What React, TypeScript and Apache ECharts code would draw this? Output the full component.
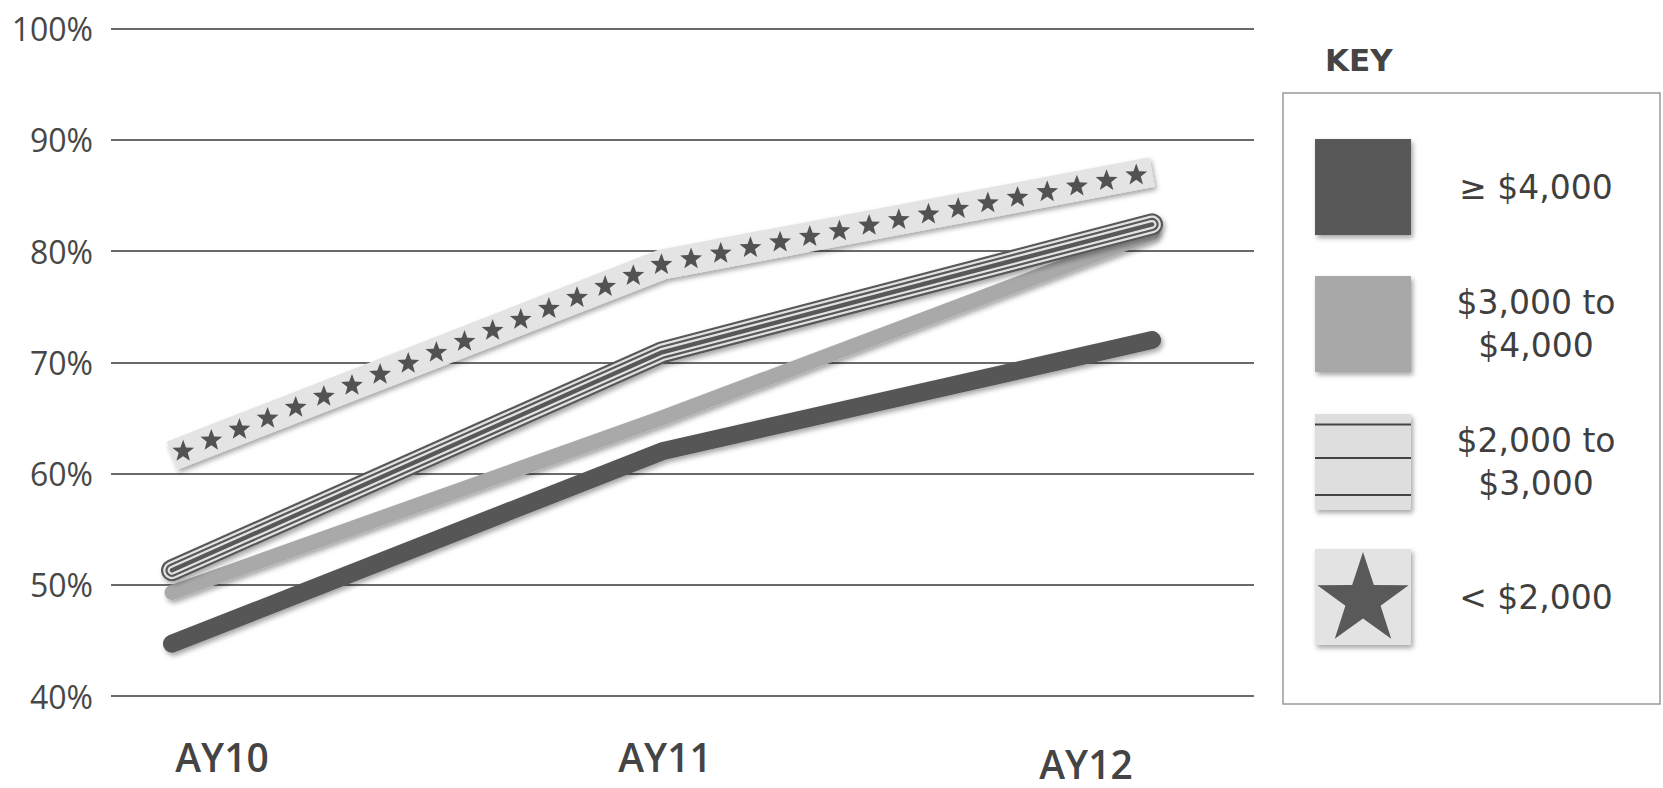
import React, { useEffect, useRef } from 'react';
import * as echarts from 'echarts';

// ---------- data ----------
const categories = ['AY10', 'AY11', 'AY12'];
const yTickValues = [40, 50, 60, 70, 80, 90, 100];
const over4000 = [44.7, 62.0, 72.0];
const from3000to4000 = [49.3, 65.0, 81.6];
const from2000to3000 = [51.3, 70.9, 82.4];
const under2000 = [61.6, 78.8, 87.1];
const legendLabels = [['≥ $4,000'], ['$3,000 to', '$4,000'], ['$2,000 to', '$3,000'], ['< $2,000']];

const toPairs = (vals: number[]) => vals.map((v, i) => [i, v]);

function starPoints(cx: number, cy: number, R: number, r: number) {
  const pts: number[][] = [];
  for (let k = 0; k < 10; k++) {
    const ang = -Math.PI / 2 + (k * Math.PI) / 5;
    const rad = k % 2 === 0 ? R : r;
    pts.push([cx + rad * Math.cos(ang), cy + rad * Math.sin(ang)]);
  }
  return pts;
}

const dist = (a: number[], b: number[]) => Math.hypot(b[0] - a[0], b[1] - a[1]);

const TEXT = '#474747';
const shadow = { shadowBlur: 5, shadowColor: 'rgba(0,0,0,0.35)', shadowOffsetX: 2, shadowOffsetY: 3 };

export default function App() {
  const ref = useRef<HTMLDivElement>(null);

  useEffect(() => {
    if (!ref.current) return;
    const chart = echarts.init(ref.current, null, { renderer: 'svg' });

    const lineBase = (name: string, data: number[], width: number, color: string, extra: any = {}) => ({
      type: 'line',
      name,
      data: toPairs(data),
      symbol: 'none',
      silent: true,
      lineStyle: { width, color, cap: 'round', join: 'round', ...extra },
    });

    // nested strokes of the same path give parallel stripes
    const stripeWidths = [22, 17.6, 13.2, 8.8, 4.4];
    const stripeColors = ['#585858', '#e2e2e2', '#585858', '#e2e2e2', '#585858'];
    const stripeSeries = stripeWidths.map((w, k) =>
      lineBase('$2,000 to $3,000', from2000to3000, w, stripeColors[k], k === 0 ? shadow : {})
    );

    const option: any = {
      animation: false,
      backgroundColor: '#ffffff',
      grid: { left: 111, right: 1663 - 1254, top: 28.6, bottom: 788 - 696, containLabel: false },
      xAxis: {
        type: 'value',
        min: -0.1245,
        max: 2.208,
        show: false,
      },
      yAxis: {
        type: 'value',
        min: yTickValues[0],
        max: yTickValues[yTickValues.length - 1],
        interval: 10,
        axisLine: { show: false },
        axisTick: { show: false },
        axisLabel: {
          formatter: '{value}%',
          color: TEXT,
          fontFamily: 'Open Sans',
          fontSize: 32,
          margin: 18,
        },
        splitLine: { lineStyle: { color: '#6a6a6a', width: 2 } },
      },
      series: [
        lineBase('≥ $4,000', over4000, 18, '#575757', shadow),
        lineBase('$3,000 to $4,000', from3000to4000, 15, '#a9a9a9', shadow),
        ...stripeSeries,
        lineBase('< $2,000', under2000, 30, '#e4e4e4', { ...shadow, cap: 'butt' }),
      ],
    };
    chart.setOption(option);

    // stars along the < $2,000 band, positioned through the chart's own scales
    const pts = under2000.map((v, i) => chart.convertToPixel({ gridIndex: 0 }, [i, v]) as number[]);
    const segLens = pts.slice(0, -1).map((p, k) => dist(p, pts[k + 1]));
    const total = segLens.reduce((a, b) => a + b, 0);
    const spacing = 30.2;
    const startPad = 12;
    const starGraphics: any[] = [];
    for (let s = startPad; s <= total - 8; s += spacing) {
      let acc = 0;
      let k = 0;
      while (k < segLens.length - 1 && s > acc + segLens[k]) {
        acc += segLens[k];
        k++;
      }
      const t = (s - acc) / segLens[k];
      const a = pts[k];
      const b = pts[k + 1];
      starGraphics.push({
        type: 'polygon',
        z: 10,
        silent: true,
        shape: { points: starPoints(a[0] + (b[0] - a[0]) * t, a[1] + (b[1] - a[1]) * t, 11.5, 4.8) },
        style: { fill: '#525252' },
      });
    }

    // legend graphics
    const swX = 1315;
    const swW = 96;
    const swH = 96;
    const swY = [139, 276, 414, 549];
    const textX = 1536;
    const legendGraphics: any[] = [
      {
        type: 'text',
        left: 1325,
        top: 44,
        style: { text: 'KEY', fill: '#444', font: 'bold 31px "DejaVu Sans"' },
      },
      {
        type: 'rect',
        shape: { x: 1283, y: 93, width: 377, height: 611 },
        style: { fill: 'none', stroke: '#9a9a9a', lineWidth: 1.5 },
      },
      {
        type: 'rect',
        shape: { x: swX, y: swY[0], width: swW, height: swH },
        style: { fill: '#595959', ...shadow },
      },
      {
        type: 'rect',
        shape: { x: swX, y: swY[1], width: swW, height: swH },
        style: { fill: '#a8a8a8', ...shadow },
      },
      {
        type: 'rect',
        shape: { x: swX, y: swY[2], width: swW, height: swH },
        style: { fill: '#dedede', ...shadow },
      },
      ...[10.5, 44, 81].map((dy) => ({
        type: 'line',
        shape: { x1: swX, y1: swY[2] + dy, x2: swX + swW, y2: swY[2] + dy },
        style: { stroke: '#444', lineWidth: 2 },
      })),
      {
        type: 'rect',
        shape: { x: swX, y: swY[3], width: swW, height: swH },
        style: { fill: '#e3e3e3', ...shadow },
      },
      {
        type: 'polygon',
        shape: { points: starPoints(swX + swW / 2, swY[3] + 51, 48, 18.5) },
        style: { fill: '#595959' },
      },
    ];
    legendLabels.forEach((lines, k) => {
      const cy = swY[k] + swH / 2;
      const lh = 43;
      lines.forEach((ln, j) => {
        const y = cy + (j - (lines.length - 1) / 2) * lh;
        legendGraphics.push({
          type: 'text',
          x: textX,
          y,
          style: {
            text: ln,
            fill: '#3f3f3f',
            font: '33px "DejaVu Sans"',
            align: 'center',
            verticalAlign: 'middle',
          },
        });
      });
    });

    // x category labels
    const xLabelPos = [
      [222, 756],
      [665, 756],
      [1086, 763],
    ];
    const xLabelGraphics = categories.map((c, i) => ({
      type: 'text',
      x: xLabelPos[i][0],
      y: xLabelPos[i][1],
      style: {
        text: c,
        fill: '#444',
        font: '600 39px "Open Sans"',
        lineHeight: 40,
        align: 'center',
        verticalAlign: 'middle',
      },
    }));

    chart.setOption({ graphic: [...legendGraphics, ...xLabelGraphics, ...starGraphics] });
    return () => chart.dispose();
  }, []);

  return (
    <div
      ref={ref}
      style={{ position: 'absolute', left: 0, top: 0, width: 1663, height: 788, background: '#fff' }}
    />
  );
}
